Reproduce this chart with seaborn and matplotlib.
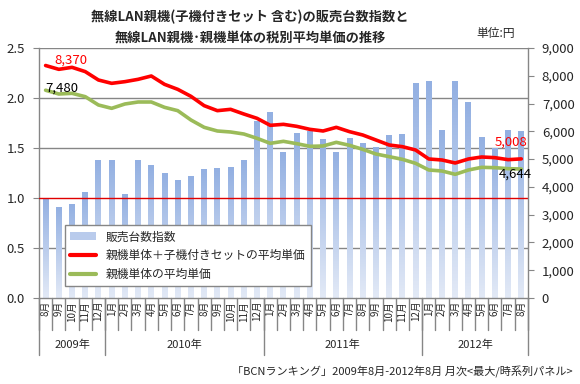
import numpy as np
import pandas as pd
import matplotlib
matplotlib.use("Agg")
import matplotlib.pyplot as plt
from matplotlib.colors import LinearSegmentedColormap
from matplotlib.lines import Line2D
from matplotlib.patches import Patch
import seaborn as sns

# months 2009/8 - 2012/8
month_labels = ["8月", "9月", "10月", "11月", "12月",
                "1月", "2月", "3月", "4月", "5月", "6月", "7月", "8月", "9月", "10月", "11月", "12月",
                "1月", "2月", "3月", "4月", "5月", "6月", "7月", "8月", "9月", "10月", "11月", "12月",
                "1月", "2月", "3月", "4月", "5月", "6月", "7月", "8月"]
year_labels = ["2009年", "2010年", "2011年", "2012年"]
year_counts = [5, 12, 12, 8]

# sales index (left axis)
sales_index = [1.00, 0.91, 0.94, 1.06, 1.38,
               1.38, 1.04, 1.38, 1.33, 1.25, 1.18, 1.22, 1.29, 1.30, 1.31, 1.38, 1.77,
               1.86, 1.46, 1.65, 1.67, 1.59, 1.46, 1.60, 1.55, 1.51, 1.63, 1.64, 2.15,
               2.17, 1.68, 2.17, 1.96, 1.61, 1.50, 1.68, 1.67]
# average price incl. sets with client adapter (yen)
price_all = [8370, 8232, 8304, 8150, 7848, 7728, 7788, 7872, 7992, 7692, 7512, 7260,
             6924, 6744, 6792, 6624, 6468, 6216, 6252, 6180, 6072, 6012, 6144, 5988,
             5868, 5688, 5508, 5448, 5328, 5004, 4968, 4860, 5004, 5076, 5052, 4980, 5008]
# average price of base unit only (yen)
price_single = [7480, 7344, 7368, 7248, 6948, 6828, 6984, 7056, 7056, 6864, 6744, 6408,
                6144, 6012, 5976, 5904, 5748, 5568, 5640, 5556, 5460, 5472, 5604, 5496,
                5352, 5184, 5088, 4992, 4848, 4608, 4572, 4452, 4608, 4704, 4692, 4656, 4644]

df = pd.DataFrame({"pos": np.arange(len(month_labels)), "sales": sales_index,
                   "all": price_all, "single": price_single})

sns.set_style("white")
plt.rcParams['font.family'] = ['Noto Sans CJK JP', 'DejaVu Sans']

fig = plt.figure(figsize=(5.8, 3.84), dpi=100)
ax = fig.add_axes([0.0672, 0.224, 0.843, 0.651])
ax2 = ax.twinx()

grid_c = '#868686'
red = '#ff0000'
green = '#9bbb59'

# bars with a vertical gradient
sns.barplot(data=df, x="pos", y="sales", ax=ax, width=0.45, color='#a9c0e8', zorder=2)
cmap = LinearSegmentedColormap.from_list("bar", ['#e2e9f6', '#93b0e2'])
grad = np.linspace(0, 1, 64).reshape(-1, 1)
for p in ax.patches:
    x0, w, h = p.get_x(), p.get_width(), p.get_height()
    im = ax.imshow(grad, extent=[x0, x0 + w, 0, h], origin='lower', aspect='auto',
                   cmap=cmap, zorder=2)
    im.set_clip_path(p)
    p.set_facecolor('none')
    p.set_edgecolor('none')

n = len(month_labels)
ax.set_xlim(-0.5, n - 0.5)
ax.set_ylim(0, 2.5)
ax.set_yticks([0, 0.5, 1.0, 1.5, 2.0, 2.5])
ax.set_yticklabels(['0.0', '0.5', '1.0', '1.5', '2.0', '2.5'])
for y in [0.5, 1.5, 2.0, 2.5]:
    ax.axhline(y, color=grid_c, lw=1, zorder=1)
ax.axhline(1.0, color='#e00000', lw=1, zorder=3)

# price lines on right axis
sns.lineplot(data=df, x="pos", y="all", ax=ax2, color=red, lw=2.6)
sns.lineplot(data=df, x="pos", y="single", ax=ax2, color=green, lw=2.6)
ax2.set_ylim(0, 9000)
ax2.set_yticks(np.arange(0, 9001, 1000))
ax2.set_yticklabels(['0'] + [f"{v:,}" for v in range(1000, 9001, 1000)])

ax2.annotate(f"{price_all[0]:,}", xy=(0, price_all[0]), xytext=(25, 5),
             textcoords='offset pixels', color=red, fontsize=9.5, ha='center', va='center')
ax2.annotate(f"{price_single[0]:,}", xy=(0, price_single[0]), xytext=(16, 2),
             textcoords='offset pixels', color='black', fontsize=9.5, ha='center', va='center')
ax2.annotate(f"{price_all[-1]:,}", xy=(n - 1, price_all[-1]), xytext=(-10, 17),
             textcoords='offset pixels', color=red, fontsize=9.5, ha='center', va='center')
ax2.annotate(f"{price_single[-1]:,}", xy=(n - 1, price_single[-1]), xytext=(-6, -5),
             textcoords='offset pixels', color='black', fontsize=9.5, ha='center', va='center')

for a in (ax, ax2):
    a.set_xlabel('')
    a.set_ylabel('')
    for s in a.spines.values():
        s.set_color(grid_c)
        s.set_linewidth(1)
    a.spines['top'].set_visible(False)
ax.spines['right'].set_visible(False)
ax2.spines['left'].set_visible(False)
ax2.spines['bottom'].set_visible(False)

ax.tick_params(axis='y', length=4, color=grid_c, labelsize=9.5, pad=6, left=True)
ax2.tick_params(axis='y', length=4, color=grid_c, labelsize=9.5, pad=6, right=True)

ax.set_xticks(np.arange(n))
ax.set_xticklabels(month_labels, rotation=90, fontsize=7)
ax.tick_params(axis='x', length=0, pad=2)

# category separators and year labels under the axis
tr = ax.get_xaxis_transform()
for b in range(n + 1):
    ax.plot([b - 0.5, b - 0.5], [0, -0.128], transform=tr, color=grid_c, lw=1, clip_on=False)
start = 0
for lab, cnt in zip(year_labels, year_counts):
    ax.plot([start - 0.5, start - 0.5], [0, -0.228], transform=tr, color=grid_c, lw=1, clip_on=False)
    ax.text(start + (cnt - 1) / 2, -0.188, lab, transform=tr, ha='center', va='center', fontsize=8)
    start += cnt
ax.plot([start - 0.5, start - 0.5], [0, -0.228], transform=tr, color=grid_c, lw=1, clip_on=False)

handles = [Patch(facecolor='#b9cbec', edgecolor='none'),
           Line2D([], [], color=red, lw=3),
           Line2D([], [], color=green, lw=3)]
labels = ["販売台数指数", "親機単体＋子機付きセットの平均単価", "親機単体の平均単価"]
leg = ax2.legend(handles, labels, loc='upper left', bbox_to_anchor=(0.053, 0.292),
                 borderaxespad=0, fontsize=8.5, frameon=True, fancybox=False, edgecolor=grid_c,
                 handlelength=2.2, labelspacing=0.5, borderpad=0.45, framealpha=1)
leg.get_frame().set_linewidth(1)

fig.text(0.431, 1 - 17 / 384, "無線LAN親機(子機付きセット 含む)の販売台数指数と",
         ha='center', va='center', fontsize=9.5, fontweight='bold')
fig.text(0.431, 1 - 38 / 384, "無線LAN親機･親機単体の税別平均単価の推移",
         ha='center', va='center', fontsize=9.5, fontweight='bold')
fig.text(515 / 580, 1 - 33 / 384, "単位:円", ha='right', va='center', fontsize=8.5)
fig.text(573 / 580, 1 - 372 / 384, "「BCNランキング」2009年8月-2012年8月 月次<最大/時系列パネル>",
         ha='right', va='center', fontsize=8)

fig.savefig("out.png", dpi=100, facecolor='white')
